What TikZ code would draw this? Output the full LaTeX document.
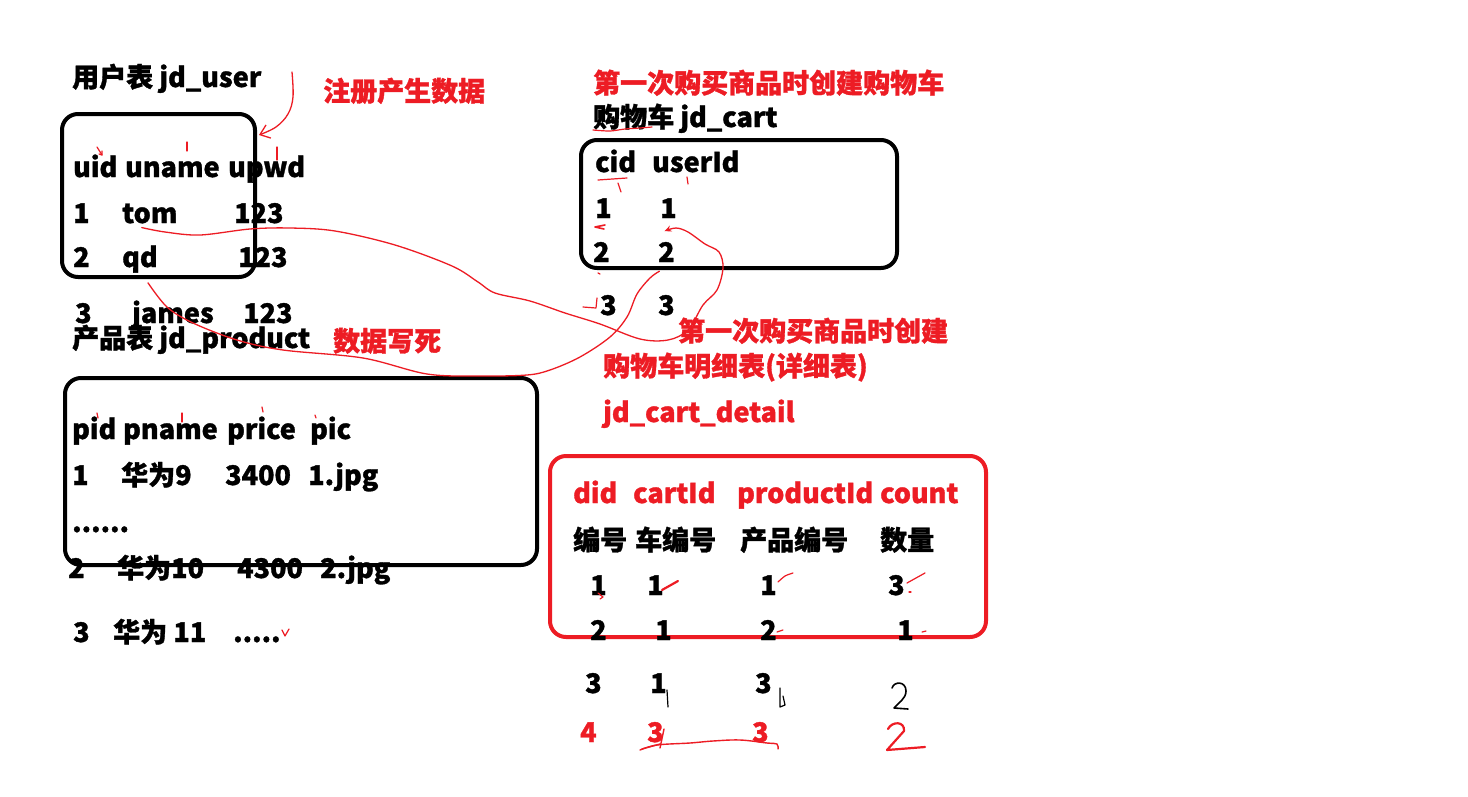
\documentclass[tikz,border=0pt]{standalone}
\usepackage{fontspec}
\setmainfont{Noto Sans CJK SC}[BoldFeatures={FakeBold=1.2}]
\usetikzlibrary{arrows.meta}
\definecolor{pred}{HTML}{ED1C24}
\begin{document}
\begin{tikzpicture}[x=1pt,y=-1pt,
  lbl/.style={anchor=base west,inner sep=0pt,font=\fontsize{27}{30}\selectfont\bfseries},
  rlbl/.style={lbl,text=pred},
  tbl/.style={draw=black,line width=4pt,rounded corners=16pt,inner sep=0pt},
  rtbl/.style={tbl,draw=pred},
  link/.style={draw=pred,line width=1.3pt,line cap=round,line join=round},
  redstroke/.style={draw=pred,line width=1.6pt,line cap=round,line join=round},
  blackstroke/.style={draw=black,line width=1.6pt,line cap=round,line join=round}]
\useasboundingbox[fill=white] (0,0) rectangle (1468,796);

% ---------- user table ----------
\node[lbl] (utitle) at (72,87) {用户表 jd\_user};
\node[rlbl] (ureg) at (323,101) {注册产生数据};
\node[lbl] (uid) at (73,177) {uid};
\node[lbl] (uname) at (125,177) {uname};
\node[lbl] (upwd) at (228,177) {upwd};
\node[lbl] (u1) at (73,223) {1};
\node[lbl] (tom) at (122,223) {tom};
\node[lbl] (u1p) at (234,223) {123};
\node[lbl] (u2) at (73,267) {2};
\node[lbl] (qd) at (122,267) {qd};
\node[lbl] (u2p) at (238,267) {123};
\node[lbl] (u3) at (75,323) {3};
\node[lbl] (james) at (132,323) {james};
\node[lbl] (u3p) at (243,323) {123};
\node[tbl,minimum width=193pt,minimum height=163pt] (ubox) at (158.5,195.5) {};

% ---------- product table ----------
\node[lbl] (ptitle) at (72,348) {产品表 jd\_product};
\node[rlbl] (pfix) at (333,351) {数据写死};
\node[lbl] (pid) at (72,439) {pid};
\node[lbl] (pname) at (123,439) {pname};
\node[lbl] (price) at (227,439) {price};
\node[lbl] (pic) at (310,439) {pic};
\node[lbl] (p1) at (72,485) {1};
\node[lbl] (p1n) at (121,485) {华为9};
\node[lbl] (p1pr) at (225,485) {3400};
\node[lbl] (p1pic) at (308,485) {1.jpg};
\node[lbl] (pdots) at (72,532) {......};
\node[lbl] (p2) at (68,578) {2};
\node[lbl] (p2n) at (117,578) {华为10};
\node[lbl] (p2pr) at (237,578) {4300};
\node[lbl] (p2pic) at (320,578) {2.jpg};
\node[lbl] (p3) at (73,642) {3};
\node[lbl] (p3n) at (113,642) {华为 11};
\node[lbl] (p3dots) at (233,642) {.....};
\node[tbl,minimum width=472pt,minimum height=187pt] (pbox) at (301,471.5) {};

% ---------- cart table ----------
\node[rlbl] (cnote) at (593,93) {第一次购买商品时创建购物车};
\node[lbl] (ctitle) at (593,127) {购物车 jd\_cart};
\node[lbl] (cid) at (595,172) {cid};
\node[lbl] (cuser) at (652,172) {userId};
\node[lbl] (cc1) at (595,218) {1};
\node[lbl] (cu1) at (660,218) {1};
\node[lbl] (cc2) at (593,262) {2};
\node[lbl] (cu2) at (658,262) {2};
\node[lbl] (cc3) at (600,315) {3};
\node[lbl] (cu3) at (658,315) {3};
\node[tbl,minimum width=316pt,minimum height=128pt] (cbox) at (739,204) {};

% ---------- cart detail table ----------
\node[rlbl] (dnote1) at (678,341) {第一次购买商品时创建};
\node[rlbl] (dnote2) at (603,376) {购物车明细表(详细表)};
\node[rlbl] (dname) at (603,422) {jd\_cart\_detail};
\node[rtbl,minimum width=436pt,minimum height=181pt] (dbox) at (768,546.5) {};
\node[rlbl] (dh1) at (573,503) {did};
\node[rlbl] (dh2) at (633,503) {cartId};
\node[rlbl] (dh3) at (737,503) {productId};
\node[rlbl] (dh4) at (880,503) {count};
\node[lbl] (dc1) at (573,550) {编号};
\node[lbl] (dc2) at (635,550) {车编号};
\node[lbl] (dc3) at (740,550) {产品编号};
\node[lbl] (dc4) at (880,550) {数量};
\node[lbl] (d11) at (590,595) {1};
\node[lbl] (d12) at (647,595) {1};
\node[lbl] (d13) at (760,595) {1};
\node[lbl] (d14) at (888,595) {3};
\node[lbl] (d21) at (590,640) {2};
\node[lbl] (d22) at (655,640) {1};
\node[lbl] (d23) at (760,640) {2};
\node[lbl] (d24) at (897,640) {1};
\node[lbl] (d31) at (585,693) {3};
\node[lbl] (d32) at (650,693) {1};
\node[lbl] (d33) at (755,693) {3};
\node[rlbl] (d41) at (580,742) {4};
\node[rlbl] (d42) at (647,742) {3};
\node[rlbl] (d43) at (752,742) {3};

% handwritten digits
\draw[blackstroke,line width=1.6pt] (892,688) .. controls (894,681) and (906,681) .. (906,691)
  .. controls (906,699) and (898,703) .. (894,708) -- (908,709);
\draw[redstroke,line width=2.2pt] (888,729) .. controls (892,721) and (905,721) .. (904,731)
  -- (887,750) -- (925,747);
\draw[blackstroke,line width=1.2pt] (667,690) -- (668,707);
\draw[blackstroke,line width=1.2pt] (780,688) -- (780,707) -- (785,705) -- (783,696);

% ---------- red connectors ----------
\coordinate (regtop) at (292,72);
\draw[link,-{Straight Barb[length=9pt,width=14pt]}] plot[smooth,tension=0.6] coordinates
  {(regtop) (293,97) (288,114) (276,127) ([xshift=2pt,yshift=-23pt]ubox.north east)};

\draw[link,-{Stealth[length=7pt,width=6pt]}] plot[smooth,tension=0.55] coordinates
  {([xshift=-8pt,yshift=-4pt]tom.south) (165,232) (200,235) (250,229) (290,228) (335,231)
   (395,245) (452,266) (478,282) (495,293) (530,301) (565,313) (600,324) (640,339)
   (668,340) (688,330) (703,305) (717,290) (723,268) (719,252) (705,244) (688,232)
   (676,228) ([xshift=-4pt,yshift=-13pt]cu1.south)};

\draw[link] plot[smooth,tension=0.55] coordinates
  {([xshift=8pt,yshift=-10pt]qd.south) (167,307) (193,323) (237,340) (283,350) (363,358)
   (427,374) (480,376) (527,375) (550,370) (580,357) (610,337) (627,317) (637,294)
   (650,278) ([xshift=-7pt,yshift=-9pt]cu2.south)};

% ---------- small red marks ----------
\draw[redstroke,line width=1.2pt] (97,147) -- (102,155);
\draw[redstroke,line width=1.2pt] (99,154) -- (102,155) -- (102,151);
\draw[redstroke,line width=1.2pt] (187,142) -- (187,151);
\draw[redstroke,line width=1.2pt] (277,147) -- (277,160);
\draw[redstroke,line width=1.2pt] (97,413) -- (98,418);
\draw[redstroke,line width=1.2pt] (182,413) -- (182,422);
\draw[redstroke,line width=1.2pt] (262,407) -- (263,412);
\draw[redstroke,line width=1.2pt] (315,415) -- (316,418);
\draw[redstroke,line width=1.2pt] (282,630) -- (285,636) -- (289,629);
\draw[redstroke,line width=1.2pt] plot[smooth] coordinates {(593,130) (610,131) (625,129) (640,128) (652,127)};
\draw[redstroke,line width=1.2pt] (598,180) -- (627,178);
\draw[redstroke,line width=1.2pt] (618,183) -- (621,192);
\draw[redstroke,line width=1.2pt] (687,177) -- (688,184);
\draw[redstroke,line width=1.6pt] (605,225) -- (595,227) -- (604,229);
\draw[redstroke,line width=1.2pt] (598,273) -- (600,274);
\draw[redstroke,line width=1.2pt] (583,307) -- (596,308) -- (597,298);
\draw[redstroke,line width=1.2pt] (598,593) -- (603,597) -- (600,599);
\draw[redstroke,line width=2.2pt] (662,590) -- (678,581);
\draw[redstroke,line width=1.2pt] plot[smooth] coordinates {(778,582) (785,576) (793,573)};
\draw[redstroke,line width=1.2pt] (907,583) -- (925,573);
\draw[redstroke,line width=1.2pt] (909,592) -- (911,592);
\draw[redstroke,line width=1.2pt] (777,632) -- (783,630);
\draw[redstroke,line width=1.2pt] (922,632) -- (926,631);
\draw[redstroke,line width=1.4pt] plot[smooth,tension=0.6] coordinates
  {(640,750) (657,745) (690,743) (713,741) (740,740) (767,743) (777,744) (778,749)};
\draw[redstroke,line width=1.4pt] (664,729) -- (660,748);
\draw[redstroke,line width=1.4pt] (642,749) -- (660,744);
\end{tikzpicture}
\end{document}
